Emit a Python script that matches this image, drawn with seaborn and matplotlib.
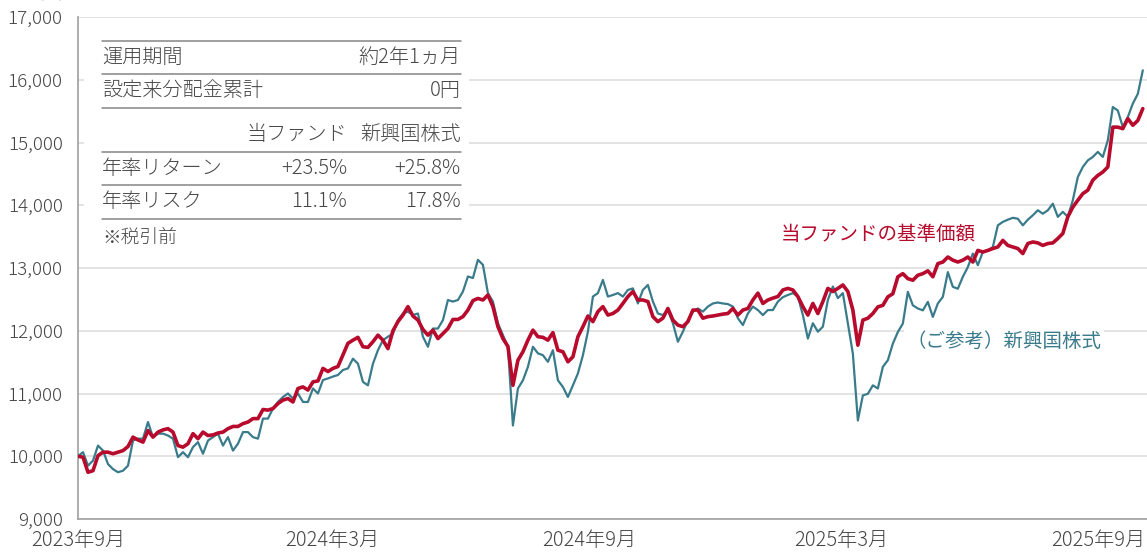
import numpy as np
import pandas as pd
import matplotlib.pyplot as plt
import matplotlib.dates as mdates
from matplotlib.ticker import FuncFormatter
import seaborn as sns

sns.set_theme(style="white")
plt.rcParams['font.family'] = ['Noto Sans CJK JP', 'DejaVu Sans']

fund = [
    10000, 9985, 9745, 9770, 10010, 10065, 10065, 10040, 10065, 10090,
    10155, 10305, 10260, 10225, 10410, 10305, 10385, 10420, 10440, 10385,
    10170, 10145, 10200, 10360, 10280, 10385, 10330, 10340, 10370, 10385,
    10440, 10475, 10475, 10520, 10545, 10600, 10600, 10745, 10735, 10760,
    10840, 10895, 10920, 10865, 11080, 11105, 11055, 11185, 11200, 11400,
    11350, 11400, 11430, 11615, 11800,
    11850, 11895, 11745, 11735, 11825, 11930, 11850, 11715, 12000, 12145,
    12250, 12385, 12235, 12170, 12020, 11930, 12010, 11875, 11955, 12035,
    12180, 12180, 12225, 12330, 12480, 12515, 12490, 12570, 12385, 12065,
    11875, 11750, 11130, 11530, 11665, 11850, 12010, 11905, 11895, 11850,
    11970, 11690, 11665, 11505, 11585, 11905, 12065, 12235, 12145, 12305,
    12385, 12250,
    12275, 12330, 12435, 12545, 12625, 12490, 12490, 12465, 12225, 12145,
    12200, 12355, 12170, 12090, 12065, 12145, 12330, 12330, 12200, 12225,
    12235, 12250, 12265, 12275, 12355, 12250, 12330, 12355, 12490, 12600,
    12435, 12490, 12520, 12545, 12650, 12675, 12650, 12545, 12385, 12250,
    12435, 12275, 12465, 12675, 12625, 12675, 12730, 12625, 12330, 11770,
    12170, 12200,
    12275, 12380, 12405, 12540, 12590, 12860, 12910, 12830, 12805, 12885,
    12910, 12955, 12860, 13070, 13095, 13175, 13125, 13095, 13125, 13175,
    13095, 13280, 13255, 13280, 13310, 13335, 13440, 13360, 13335, 13310,
    13230, 13390, 13415, 13400, 13360, 13390, 13400, 13470, 13550, 13815,
    13970, 14080, 14185, 14240, 14400, 14475, 14530, 14610, 15245, 15245,
    15220, 15380, 15275, 15350, 15540,
]

emerging = [
    10000, 10065, 9850, 9930, 10170, 10090, 9875, 9795, 9745, 9770,
    9850, 10250, 10280, 10280, 10545, 10305, 10360, 10360, 10330, 10280,
    9985, 10065, 9985, 10145, 10225, 10040, 10250, 10305, 10360, 10170,
    10305, 10090, 10200, 10385, 10385, 10305, 10280, 10600, 10600, 10760,
    10865, 10945, 11000, 10920, 11000, 10865, 10865, 11080, 11000, 11215,
    11240, 11270, 11295, 11375, 11400,
    11555, 11475, 11185, 11130, 11475, 11690, 11850, 11905, 11955, 12170,
    12275, 12305, 12250, 12275, 11905, 11745, 12035, 12035, 12170, 12490,
    12465, 12490, 12625, 12865, 12840, 13130, 13050, 12600, 12465, 12120,
    11930, 11745, 10490, 11080, 11210, 11425, 11745, 11640, 11610, 11505,
    11690, 11210, 11105, 10945, 11130, 11320, 11610, 11985, 12545, 12600,
    12810, 12545,
    12570, 12600, 12545, 12650, 12675, 12435, 12650, 12730, 12465, 12275,
    12250, 12330, 12120, 11825, 11985, 12170, 12305, 12355, 12305, 12385,
    12435, 12450, 12435, 12425, 12385, 12200, 12090, 12275, 12385, 12330,
    12250, 12330, 12330, 12465, 12535, 12570, 12600, 12545, 12250, 11875,
    12120, 11985, 12065, 12490, 12705, 12520, 12600, 12120, 11635, 10570,
    10970, 10995,
    11130, 11080, 11425, 11530, 11795, 11980, 12115, 12620, 12405, 12355,
    12325, 12460, 12220, 12435, 12540, 12935, 12700, 12670, 12860, 13015,
    13230, 13045, 13255, 13280, 13335, 13680, 13735, 13770, 13800, 13785,
    13680, 13770, 13840, 13920, 13865, 13920, 14025, 13815, 13895, 13815,
    14080, 14450, 14610, 14715, 14770, 14850, 14770, 15035, 15565, 15510,
    15245, 15405, 15620, 15775, 16150,
]

dates = pd.date_range("2023-09-01", "2025-10-03", periods=len(fund))
tick_dates = pd.to_datetime(["2023-09-01", "2024-03-01", "2024-09-01",
                             "2025-03-01", "2025-09-01"])
tick_labels = ["2023年9月", "2024年3月", "2024年9月", "2025年3月", "2025年9月"]

table_rows = [("運用期間", "約2年1ヵ月"), ("設定来分配金累計", "0円")]
table_head = ("当ファンド", "新興国株式")
table_stats = [("年率リターン", "+23.5%", "+25.8%"), ("年率リスク", "11.1%", "17.8%")]

df = pd.DataFrame({"date": dates, "fund": fund, "emerging": emerging})

red = "#b70a2c"
teal = "#3a7b8b"
txt = "#454545"

fig = plt.figure(figsize=(11.47, 5.53), dpi=100)
ax = fig.add_axes([78 / 1147, 34 / 553, 1069 / 1147, 502 / 553])

sns.lineplot(data=df, x="date", y="emerging", ax=ax, color=teal, lw=1.6, zorder=3)
sns.lineplot(data=df, x="date", y="fund", ax=ax, color=red, lw=2.6, zorder=4)

ax.set_xlim(pd.Timestamp("2023-09-01"), pd.Timestamp("2025-10-06"))
ax.set_ylim(9000, 17000)
ax.set_yticks(range(9000, 17001, 1000))
ax.yaxis.set_major_formatter(FuncFormatter(lambda v, p: f"{int(v):,}"))
ax.set_xticks(tick_dates)
ax.set_xticklabels(tick_labels)
ax.set_xlabel("")
ax.set_ylabel("")
ax.grid(axis="y", color="#e3e3e3", lw=1.4, zorder=0)
for s in ["top", "right"]:
    ax.spines[s].set_visible(False)
for s in ["left", "bottom"]:
    ax.spines[s].set_color("#a0a0a0")
    ax.spines[s].set_linewidth(1.2)
ax.tick_params(axis="both", length=5, width=1, color="#a0a0a0",
               labelsize=13.5, labelcolor=txt, pad=4)
ax.tick_params(axis="x", labelsize=14.5, pad=3)
ax.tick_params(axis="y", pad=6)
for t in ax.get_xticklabels() + ax.get_yticklabels():
    t.set_fontweight("light")

# unit label (cut off at the top in the reference)
fig.text(0.025, 1 - 3 / 553, "（円）", fontsize=11, color=txt, va="bottom")

# summary table
ax.add_patch(plt.Rectangle((0.006, 0.532), 0.36, 0.442, transform=ax.transAxes,
                           facecolor="white", edgecolor="none", zorder=2))
xl, xm, xr = 0.0224, 0.2516, 0.358
for yl in [0.952, 0.886, 0.819, 0.731, 0.665, 0.598]:
    ax.plot([xl, xr], [yl, yl], transform=ax.transAxes, color="#858585", lw=1.1, zorder=3)
kw = dict(transform=ax.transAxes, fontsize=14.5, color=txt, va="center",
          fontweight="light", zorder=3)
for (lab, val), yy in zip(table_rows, [0.920, 0.853]):
    ax.text(xl, yy, lab, **kw)
    ax.text(xr, yy, val, ha="right", **kw)
ax.text(xm, 0.765, table_head[0], ha="right", **kw)
ax.text(xr, 0.765, table_head[1], ha="right", **kw)
for (lab, a, b), yy in zip(table_stats, [0.699, 0.632]):
    ax.text(xl, yy, lab, **kw)
    ax.text(xm, yy, a, ha="right", **kw)
    ax.text(xr, yy, b, ha="right", **kw)
ax.text(xl, 0.560, "※税引前", transform=ax.transAxes, fontsize=13.5, color=txt,
        va="center", fontweight="light", zorder=3)

# series labels
ax.text(0.657, 0.566, "当ファンドの基準価額", transform=ax.transAxes, fontsize=14,
        color=red, va="center", zorder=5)
ax.text(0.866, 0.3546, "（ご参考）新興国株式", transform=ax.transAxes, fontsize=14,
        color=teal, va="center", ha="center", zorder=5,
        bbox=dict(facecolor="white", edgecolor="none", pad=2))

fig.savefig("out.png", dpi=100)
